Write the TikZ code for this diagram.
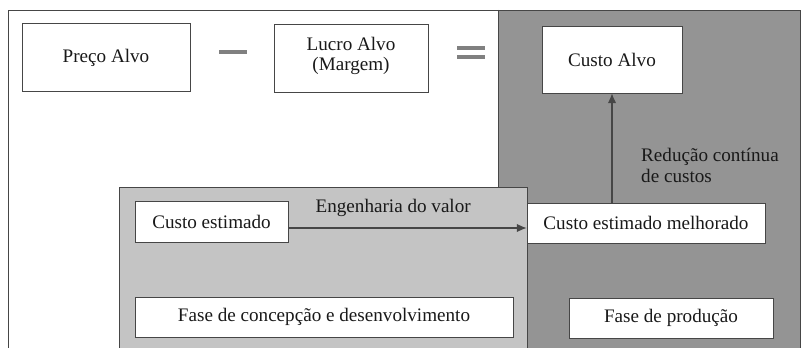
\documentclass[tikz,border=0pt]{standalone}
\usepackage{fontspec}
\setmainfont{Liberation Serif}
\usetikzlibrary{arrows.meta}
\definecolor{darkzone}{RGB}{148,148,148}
\definecolor{lightzone}{RGB}{196,196,196}
\definecolor{inkgray}{RGB}{70,70,70}
\tikzset{
  box/.style={draw=inkgray,fill=white,inner sep=0pt,align=center,text=black!90},
  arr/.style={draw=inkgray,line width=0.9pt,-{Latex[length=7pt,width=6pt]}},
}
\begin{document}
\begin{tikzpicture}[x=0.025cm,y=-0.025cm,font=\fontsize{13.6}{15.5}\selectfont]
\useasboundingbox (0,0) rectangle (802,348);
% zones
\fill[darkzone](498,10) rectangle (800,348);
\draw[inkgray](8,348)|-(800,10)--(800,348);
\draw[inkgray](498,10)--(498,348);
\fill[lightzone](119,187) rectangle (527,348);
\draw[inkgray](119,348)|-(527,187)--(527,348);
% formula
\node[box,minimum width=4.2cm,minimum height=1.7cm](preco) at (106,57.5) {\raisebox{3pt}{Preço Alvo}};
\node[box,minimum width=3.85cm,minimum height=1.7cm](lucro) at (351,58) {\raisebox{14pt}{\begin{tabular}{@{}c@{}}Lucro Alvo\\[-1pt](Margem)\end{tabular}}};
\node[box,minimum width=3.5cm,minimum height=1.675cm](alvo) at (612,59.5) {Custo Alvo};
\draw[gray,line width=3pt](219,52)--(247,52);
\draw[gray,line width=2.4pt](457,48)--(485,48);
\draw[gray,line width=2.4pt](457,57)--(485,57);
% phases
\node[box,minimum width=3.825cm,minimum height=1.025cm](estim) at (211.5,221.5) {Custo estimado};
\node[box,minimum width=5.95cm,minimum height=1cm](melhor) at (646,223) {Custo estimado melhorado};
\node[box,minimum width=9.45cm,minimum height=1cm](concep) at (324,317) {Fase de concepção e desenvolvimento};
\node[box,minimum width=5.1cm,minimum height=1cm](prod) at (671,318) {Fase de produção};
\draw[arr]([yshift=-6.5*0.025cm]estim.east)--([yshift=-6.5*0.025cm]estim.east -| melhor.west)
  node[pos=0.44,above=4pt,text=black!90]{Engenharia do valor};
\draw[arr](alvo.south |- melhor.north)--(alvo.south)
  node[pos=0.34,right=17pt,align=left,text=black!90]{Redução contínua\\de custos};
\end{tikzpicture}
\end{document}
